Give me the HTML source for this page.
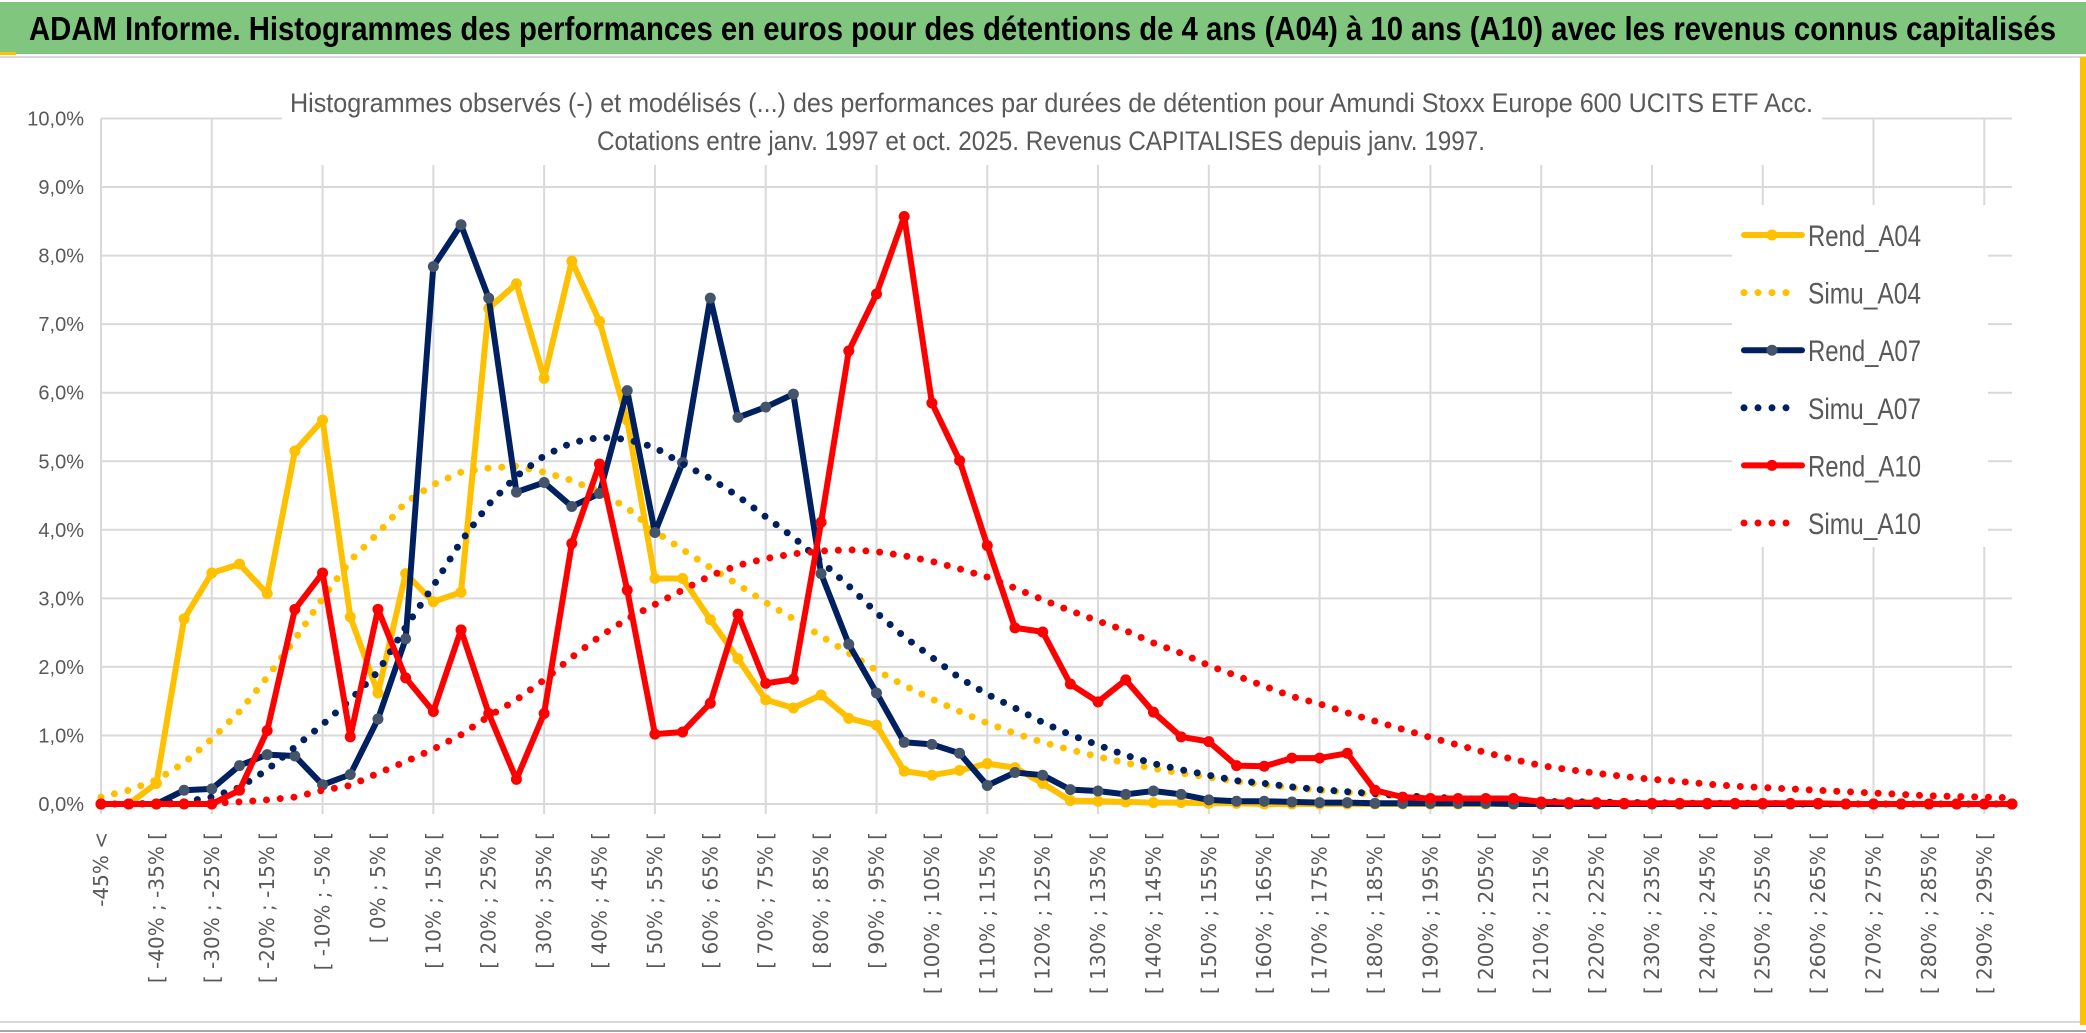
<!DOCTYPE html>
<html><head><meta charset="utf-8"><style>
html,body{margin:0;padding:0;background:#fff;}
svg{display:block;}
</style></head><body>
<svg id="chart" xmlns="http://www.w3.org/2000/svg" width="2086" height="1033" viewBox="0 0 2086 1033">
<rect x="0" y="0" width="2086" height="1033" fill="#ffffff"/>
<rect x="0" y="2" width="2086" height="52" fill="#80c67f"/>
<rect x="0" y="52" width="16" height="3" fill="#ffc000"/>
<text x="29" y="40" font-family="Liberation Sans, sans-serif" font-weight="bold" font-size="33" fill="#000" textLength="2027" lengthAdjust="spacingAndGlyphs">ADAM Informe. Histogrammes des performances en euros pour des détentions de 4 ans (A04) à 10 ans (A10) avec les revenus connus capitalisés</text>
<line x1="0" y1="57" x2="2086" y2="57" stroke="#d9d9d9" stroke-width="2"/>
<rect x="2080" y="57" width="6" height="968" fill="#ffc000"/>
<line x1="0" y1="1022" x2="2080" y2="1022" stroke="#d9d9d9" stroke-width="2"/>
<line x1="0" y1="1031" x2="2086" y2="1031" stroke="#a6a6a6" stroke-width="2"/>
<g id="grid"></g>
<rect x="282" y="60" width="1540" height="105" fill="#fff"/>
<text x="290" y="112" font-family="Liberation Sans, sans-serif" font-size="27" fill="#595959" textLength="1523" lengthAdjust="spacingAndGlyphs">Histogrammes observés (-) et modélisés (...) des performances par durées de détention pour Amundi Stoxx Europe 600 UCITS ETF Acc.</text>
<text x="597" y="150" font-family="Liberation Sans, sans-serif" font-size="27" fill="#595959" textLength="888" lengthAdjust="spacingAndGlyphs">Cotations entre janv. 1997 et oct. 2025. Revenus CAPITALISES depuis janv. 1997.</text>
<g id="yaxis"></g>
<g id="xaxis"></g>
<g id="series"></g>
<g id="legend"></g>
</svg>
<script>
const rendA04 = [0,0,0.3,2.7,3.37,3.5,3.07,5.15,5.6,2.73,
1.62,3.36,2.95,3.09,7.23,7.59,6.21,7.92,7.04,5.6,
3.29,3.29,2.69,2.12,1.52,1.4,1.59,1.25,1.15,0.48,
0.42,0.49,0.59,0.53,0.3,0.05,0.04,0.03,0.02,0.02,
0.01,0.01,0,0,0,0,0,0,0,0,
0,0,0,0,0,0,0,0,0,0,
0,0,0,0,0,0,0,0,0,0];
const simuA04 = [0.1,0.2,0.35,0.6,0.95,1.35,1.85,2.4,3.0,3.55,
3.95,4.4,4.66,4.84,4.9,4.93,4.84,4.72,4.55,4.32,
3.98,3.71,3.45,3.2,2.94,2.7,2.45,2.2,1.95,1.73,
1.53,1.35,1.18,1.03,0.9,0.79,0.69,0.6,0.52,0.45,
0.39,0.33,0.28,0.24,0.2,0.17,0.14,0.12,0.1,0.08,
0.07,0.05,0.04,0.03,0.03,0.02,0.02,0.01,0.01,0.01,
0.01,0.01,0,0,0,0,0,0,0,0];
const rendA07 = [0,0,0,0.2,0.22,0.56,0.72,0.7,0.28,0.43,
1.24,2.41,7.84,8.45,7.38,4.55,4.69,4.34,4.53,6.03,
3.96,4.98,7.38,5.64,5.79,5.98,3.36,2.33,1.62,0.9,
0.87,0.74,0.27,0.46,0.42,0.21,0.19,0.14,0.19,0.14,
0.06,0.04,0.04,0.03,0.02,0.02,0.01,0.01,0.01,0.01,
0.01,0,0,0,0,0,0,0,0,0,
0,0,0,0,0,0,0,0,0,0];
const simuA07 = [0,0,0.01,0.03,0.1,0.24,0.5,0.83,1.16,1.52,
1.93,2.58,3.18,3.83,4.37,4.78,5.08,5.27,5.35,5.32,
5.2,4.96,4.75,4.49,4.19,3.89,3.54,3.18,2.79,2.44,
2.14,1.84,1.6,1.4,1.19,1.01,0.86,0.71,0.59,0.5,
0.42,0.34,0.3,0.25,0.21,0.18,0.15,0.12,0.1,0.08,
0.07,0.05,0.04,0.03,0.03,0.02,0.02,0.01,0.01,0.01,
0.01,0,0,0,0,0,0,0,0,0];
const rendA10 = [0,0,0,0,0,0.2,1.07,2.84,3.37,0.98,
2.84,1.84,1.35,2.54,1.32,0.36,1.32,3.8,4.96,3.12,
1.02,1.05,1.47,2.77,1.76,1.82,4.11,6.61,7.44,8.57,
5.85,5.01,3.77,2.57,2.51,1.75,1.49,1.81,1.34,0.98,
0.91,0.56,0.55,0.67,0.67,0.74,0.2,0.1,0.08,0.08,
0.08,0.08,0.03,0.02,0.02,0.01,0.01,0.01,0.01,0.01,
0.01,0.01,0.01,0,0,0,0,0,0,0];
const simuA10 = [0,0,0,0,0.01,0.03,0.06,0.1,0.2,0.27,
0.45,0.62,0.8,1.01,1.28,1.52,1.81,2.14,2.44,2.7,
2.91,3.12,3.33,3.48,3.58,3.65,3.69,3.71,3.68,3.62,
3.54,3.43,3.31,3.15,2.98,2.82,2.67,2.53,2.35,2.2,
2.02,1.87,1.72,1.57,1.46,1.33,1.21,1.09,0.97,0.86,
0.75,0.65,0.56,0.5,0.45,0.4,0.36,0.33,0.29,0.26,
0.24,0.22,0.2,0.18,0.16,0.14,0.12,0.11,0.1,0.09];
const yTicks = [0,1,2,3,4,5,6,7,8,9,10];
const yTickLabels = ["0,0%","1,0%","2,0%","3,0%","4,0%","5,0%","6,0%","7,0%","8,0%","9,0%","10,0%"];
const categories = ["-45% <"];
for (let a = -45; a <= 295; a += 5) categories.push("[ " + a + "% ; " + (a + 5) + "% [");

const NS = "http://www.w3.org/2000/svg";
const X0 = 101, X1 = 2012, Y0 = 804, Y10 = 118.5;
const n = categories.length;
function xPos(i){ return X0 + i * (X1 - X0) / (n - 1); }
function yPos(v){ return Y0 - v * (Y0 - Y10) / 10; }
function mk(tag, attrs, parent){ const e = document.createElementNS(NS, tag); for (const k in attrs) e.setAttribute(k, attrs[k]); parent.appendChild(e); return e; }

const grid = document.getElementById('grid');
yTicks.forEach(function(t){
  const l = mk('line', {x1:X0, x2:X1, y1:yPos(t), y2:yPos(t), stroke:'#d9d9d9', 'stroke-width':2}, grid);
  
  
});
for (let i = 0; i < n; i += 4) {
  const l = mk('line', {x1:xPos(i), x2:xPos(i), y1:Y10, y2:Y0 + 10, stroke:'#d9d9d9', 'stroke-width':2}, grid);
  
  
}
const yaxis = document.getElementById('yaxis');
yTicks.forEach(function(t, k){
  const tx = mk('text', {x:84, y:yPos(t) + 7, 'text-anchor':'end', 'font-family':'Liberation Sans, sans-serif', 'font-size':20, fill:'#595959'}, yaxis);
  tx.textContent = yTickLabels[k];
  
  
});
const xaxis = document.getElementById('xaxis');
categories.forEach(function(c, i){
  if (i % 2) return;
  const x = xPos(i) + 7, y = 832;
  const tx = mk('text', {x:x, y:y, transform:'rotate(-90 ' + x + ' ' + y + ')', 'text-anchor':'end', 'font-family':'DejaVu Sans, sans-serif', 'font-size':20, fill:'#595959'}, xaxis);
  tx.textContent = c;
  
  
});

const seriesG = document.getElementById('series');
function pts(arr){ return arr.map(function(v, i){ return xPos(i).toFixed(1) + ',' + yPos(v).toFixed(1); }).join(' '); }
function drawRend(arr, color, markColor, name){
  const g = mk('g', {}, seriesG);
  
  
  const p = mk('polyline', {points:pts(arr), fill:'none', stroke:color, 'stroke-width':6, 'stroke-linejoin':'round', 'stroke-linecap':'round'}, g);
  
  
  arr.forEach(function(v, i){
    const c = mk('circle', {cx:xPos(i), cy:yPos(v), r:5.5, fill:markColor}, g);
    
    
  });
}
function drawSimu(arr, color, name){
  const p = mk('polyline', {points:pts(arr), fill:'none', stroke:color, 'stroke-width':7, 'stroke-dasharray':'0 13.8', 'stroke-linecap':'round', 'stroke-linejoin':'round'}, seriesG);
  
  
}
drawRend(rendA04, '#ffc000', '#ffc000', 'rend-a04');
drawSimu(simuA04, '#ffc000', 'simu-a04');
drawRend(rendA07, '#002060', '#44546a', 'rend-a07');
drawSimu(simuA07, '#002060', 'simu-a07');
drawRend(rendA10, '#ff0000', '#ff0000', 'rend-a10');
drawSimu(simuA10, '#ff0000', 'simu-a10');

const legend = document.getElementById('legend');
const lb = mk('rect', {x:1732, y:205, width:256, height:342, fill:'#fff'}, legend);


const legItems = [["Rend_A04","#ffc000","#ffc000",false],["Simu_A04","#ffc000","#ffc000",true],["Rend_A07","#002060","#44546a",false],["Simu_A07","#002060","#002060",true],["Rend_A10","#ff0000","#ff0000",false],["Simu_A10","#ff0000","#ff0000",true]];
legItems.forEach(function(it, k){
  const y = 235 + k * 57.6;
  const g = mk('g', {}, legend);
  
  
  if (it[3]) {
    mk('line', {x1:1744, x2:1800, y1:y, y2:y, stroke:it[1], 'stroke-width':7, 'stroke-dasharray':'0 14', 'stroke-linecap':'round'}, g);
  } else {
    mk('line', {x1:1744, x2:1802, y1:y, y2:y, stroke:it[1], 'stroke-width':6, 'stroke-linecap':'round'}, g);
    mk('circle', {cx:1772, cy:y, r:5.5, fill:it[2]}, g);
  }
  const t = mk('text', {x:1808, y:y + 11, 'font-family':'Liberation Sans, sans-serif', 'font-size':30, fill:'#595959', textLength:113, lengthAdjust:'spacingAndGlyphs'}, g);
  t.textContent = it[0];
});
</script>
</body></html>
